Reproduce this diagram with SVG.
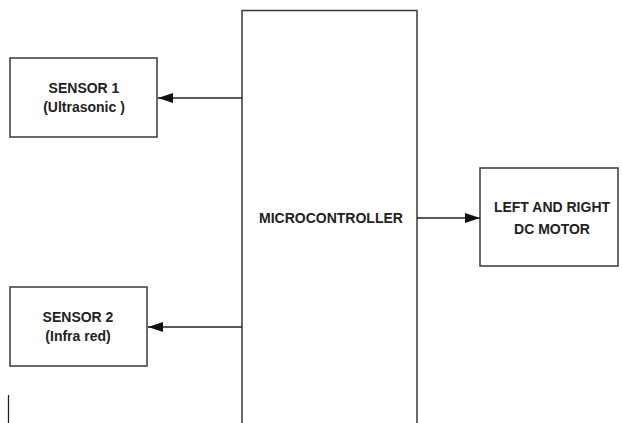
<svg xmlns="http://www.w3.org/2000/svg" width="622" height="423" viewBox="0 0 622 423">
<style>
.box{fill:#fff;stroke:#3a3a3a;stroke-width:1.5}
.t{font-family:"Liberation Sans",Arial,sans-serif;font-weight:bold;font-size:14px;fill:#222;text-anchor:middle}
.c{stroke:#222;stroke-width:1.3;fill:none}
</style>
<defs>
<marker id="ah" markerWidth="15" markerHeight="10" refX="15" refY="5" orient="auto" markerUnits="userSpaceOnUse">
<path d="M0,0 L15,5 L0,10 Z" fill="#111"/>
</marker>
</defs>
<rect width="622" height="423" fill="#fff"/>
<g id="microcontroller">
<rect class="box" x="242" y="10.5" width="175" height="420"/>
<text class="t" x="331" y="223">MICROCONTROLLER</text>
</g>
<g id="sensor1">
<rect class="box" x="10" y="58" width="147" height="79"/>
<text class="t" x="84" y="93">SENSOR 1</text>
<text class="t" x="84" y="112">(Ultrasonic )</text>
</g>
<g id="sensor2">
<rect class="box" x="10" y="287" width="137" height="79"/>
<text class="t" x="78" y="322">SENSOR 2</text>
<text class="t" x="78" y="341">(Infra red)</text>
</g>
<g id="motor">
<rect class="box" x="480" y="168" width="138" height="98"/>
<text class="t" x="552" y="212">LEFT AND RIGHT</text>
<text class="t" x="552" y="234">DC MOTOR</text>
</g>
<g id="connectors">
<line class="c" x1="242" y1="98" x2="158" y2="98" marker-end="url(#ah)"/>
<line class="c" x1="242" y1="327" x2="148" y2="327" marker-end="url(#ah)"/>
<line class="c" x1="417" y1="218" x2="480" y2="218" marker-end="url(#ah)"/>
</g>
<line x1="8.5" y1="395" x2="8.5" y2="423" stroke="#222" stroke-width="1.3"/>
</svg>
